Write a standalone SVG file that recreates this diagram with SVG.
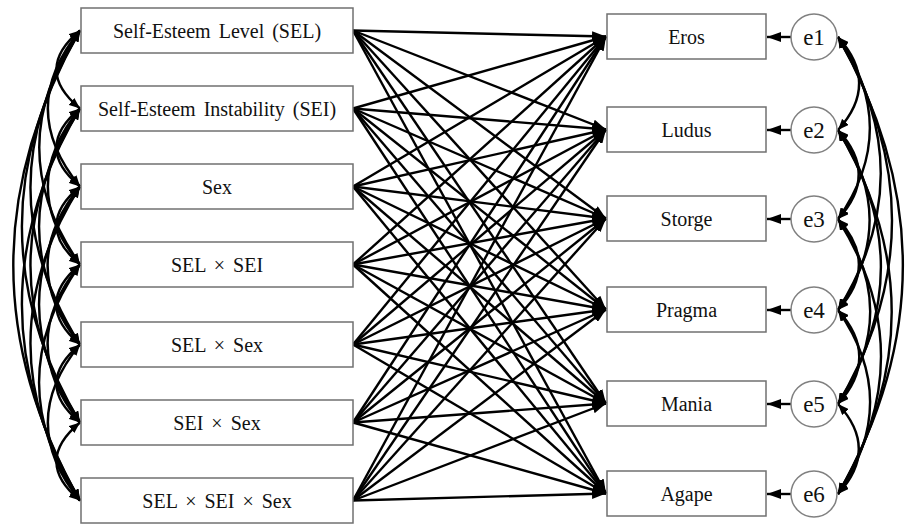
<svg xmlns="http://www.w3.org/2000/svg" width="912" height="525" viewBox="0 0 912 525">
<defs>
<marker id="ah" viewBox="0 0 14 10" refX="14" refY="5" markerWidth="14" markerHeight="10" markerUnits="userSpaceOnUse" orient="auto-start-reverse">
<path d="M0,0 L14,5 L0,10 z" fill="#000"/>
</marker>
<marker id="ahs" viewBox="0 0 11 9" refX="11" refY="4.5" markerWidth="11" markerHeight="9" markerUnits="userSpaceOnUse" orient="auto-start-reverse">
<path d="M0,0 L11,4.5 L0,9 z" fill="#000"/>
</marker>
</defs>
<style>
.box{fill:#fff;stroke:#707070;stroke-width:1.5}
.circ{fill:#fff;stroke:#808080;stroke-width:1.5}
.lbl{font-family:"Liberation Serif","Times New Roman",serif;font-size:20px;fill:#111;text-anchor:middle;word-spacing:3px}
.elbl{font-family:"Liberation Serif","Times New Roman",serif;font-size:23px;fill:#111;text-anchor:middle}
.path{stroke:#000;stroke-width:2.4;fill:none;marker-end:url(#ah)}
.cov{stroke:#000;stroke-width:2.4;fill:none;marker-start:url(#ahs);marker-end:url(#ahs)}
</style>
<rect width="912" height="525" fill="#fff"/>
<g id="connectors">
<g id="paths">
<line class="path" x1="353" y1="30.5" x2="606" y2="36.5"/><line class="path" x1="353" y1="30.5" x2="606" y2="129.5"/><line class="path" x1="353" y1="30.5" x2="606" y2="218.5"/><line class="path" x1="353" y1="30.5" x2="606" y2="309.5"/><line class="path" x1="353" y1="30.5" x2="606" y2="403.5"/><line class="path" x1="353" y1="30.5" x2="606" y2="493.5"/>
<line class="path" x1="353" y1="108.5" x2="606" y2="36.5"/><line class="path" x1="353" y1="108.5" x2="606" y2="129.5"/><line class="path" x1="353" y1="108.5" x2="606" y2="218.5"/><line class="path" x1="353" y1="108.5" x2="606" y2="309.5"/><line class="path" x1="353" y1="108.5" x2="606" y2="403.5"/><line class="path" x1="353" y1="108.5" x2="606" y2="493.5"/>
<line class="path" x1="353" y1="186.5" x2="606" y2="36.5"/><line class="path" x1="353" y1="186.5" x2="606" y2="129.5"/><line class="path" x1="353" y1="186.5" x2="606" y2="218.5"/><line class="path" x1="353" y1="186.5" x2="606" y2="309.5"/><line class="path" x1="353" y1="186.5" x2="606" y2="403.5"/><line class="path" x1="353" y1="186.5" x2="606" y2="493.5"/>
<line class="path" x1="353" y1="264.5" x2="606" y2="36.5"/><line class="path" x1="353" y1="264.5" x2="606" y2="129.5"/><line class="path" x1="353" y1="264.5" x2="606" y2="218.5"/><line class="path" x1="353" y1="264.5" x2="606" y2="309.5"/><line class="path" x1="353" y1="264.5" x2="606" y2="403.5"/><line class="path" x1="353" y1="264.5" x2="606" y2="493.5"/>
<line class="path" x1="353" y1="344.5" x2="606" y2="36.5"/><line class="path" x1="353" y1="344.5" x2="606" y2="129.5"/><line class="path" x1="353" y1="344.5" x2="606" y2="218.5"/><line class="path" x1="353" y1="344.5" x2="606" y2="309.5"/><line class="path" x1="353" y1="344.5" x2="606" y2="403.5"/><line class="path" x1="353" y1="344.5" x2="606" y2="493.5"/>
<line class="path" x1="353" y1="422.5" x2="606" y2="36.5"/><line class="path" x1="353" y1="422.5" x2="606" y2="129.5"/><line class="path" x1="353" y1="422.5" x2="606" y2="218.5"/><line class="path" x1="353" y1="422.5" x2="606" y2="309.5"/><line class="path" x1="353" y1="422.5" x2="606" y2="403.5"/><line class="path" x1="353" y1="422.5" x2="606" y2="493.5"/>
<line class="path" x1="353" y1="500.5" x2="606" y2="36.5"/><line class="path" x1="353" y1="500.5" x2="606" y2="129.5"/><line class="path" x1="353" y1="500.5" x2="606" y2="218.5"/><line class="path" x1="353" y1="500.5" x2="606" y2="309.5"/><line class="path" x1="353" y1="500.5" x2="606" y2="403.5"/><line class="path" x1="353" y1="500.5" x2="606" y2="493.5"/>
</g>
<g id="errors">
<line class="path" x1="791" y1="37" x2="767" y2="37"/>
<line class="path" x1="791" y1="130" x2="767" y2="130"/>
<line class="path" x1="791" y1="219" x2="767" y2="219"/>
<line class="path" x1="791" y1="310" x2="767" y2="310"/>
<line class="path" x1="791" y1="404" x2="767" y2="404"/>
<line class="path" x1="791" y1="494" x2="767" y2="494"/>
</g>
<g id="left-covariances">
<path class="cov" d="M80,30.5 Q32.8,69.5 80,108.5"/>
<path class="cov" d="M80,30.5 Q15.7,108.5 80,186.5"/>
<path class="cov" d="M80,30.5 Q-1.5,147.5 80,264.5"/>
<path class="cov" d="M80,30.5 Q-19.1,187.5 80,344.5"/>
<path class="cov" d="M80,30.5 Q-36.2,226.5 80,422.5"/>
<path class="cov" d="M80,30.5 Q-53.4,265.5 80,500.5"/>
<path class="cov" d="M80,108.5 Q32.8,147.5 80,186.5"/>
<path class="cov" d="M80,108.5 Q15.7,186.5 80,264.5"/>
<path class="cov" d="M80,108.5 Q-1.9,226.5 80,344.5"/>
<path class="cov" d="M80,108.5 Q-19.1,265.5 80,422.5"/>
<path class="cov" d="M80,108.5 Q-36.2,304.5 80,500.5"/>
<path class="cov" d="M80,186.5 Q32.8,225.5 80,264.5"/>
<path class="cov" d="M80,186.5 Q15.2,265.5 80,344.5"/>
<path class="cov" d="M80,186.5 Q-1.9,304.5 80,422.5"/>
<path class="cov" d="M80,186.5 Q-19.1,343.5 80,500.5"/>
<path class="cov" d="M80,264.5 Q32.4,304.5 80,344.5"/>
<path class="cov" d="M80,264.5 Q15.2,343.5 80,422.5"/>
<path class="cov" d="M80,264.5 Q-1.9,382.5 80,500.5"/>
<path class="cov" d="M80,344.5 Q32.8,383.5 80,422.5"/>
<path class="cov" d="M80,344.5 Q15.7,422.5 80,500.5"/>
<path class="cov" d="M80,422.5 Q32.8,461.5 80,500.5"/>
</g>
<g id="right-covariances">
<path class="cov" d="M838,37 Q880.3,83.5 838,130"/>
<path class="cov" d="M838,37 Q901.7,128 838,219"/>
<path class="cov" d="M838,37 Q923.5,173.5 838,310"/>
<path class="cov" d="M838,37 Q946,220.5 838,404"/>
<path class="cov" d="M838,37 Q967.7,265.5 838,494"/>
<path class="cov" d="M838,130 Q879.4,174.5 838,219"/>
<path class="cov" d="M838,130 Q901.2,220 838,310"/>
<path class="cov" d="M838,130 Q923.8,267 838,404"/>
<path class="cov" d="M838,130 Q945.4,312 838,494"/>
<path class="cov" d="M838,219 Q879.8,264.5 838,310"/>
<path class="cov" d="M838,219 Q902.4,311.5 838,404"/>
<path class="cov" d="M838,219 Q924,356.5 838,494"/>
<path class="cov" d="M838,310 Q880.6,357 838,404"/>
<path class="cov" d="M838,310 Q902.2,402 838,494"/>
<path class="cov" d="M838,404 Q879.6,449 838,494"/>
</g>
</g>
<g id="SEL"><rect class="box" x="81" y="8" width="272" height="45"/><text class="lbl" x="217" y="37.5">Self-Esteem Level (SEL)</text></g>
<g id="SEI"><rect class="box" x="81" y="86" width="272" height="45"/><text class="lbl" x="217" y="115.5">Self-Esteem Instability (SEI)</text></g>
<g id="Sex"><rect class="box" x="81" y="164" width="272" height="45"/><text class="lbl" x="217" y="193.5">Sex</text></g>
<g id="SELxSEI"><rect class="box" x="81" y="242" width="272" height="45"/><text class="lbl" x="217" y="271.5">SEL × SEI</text></g>
<g id="SELxSex"><rect class="box" x="81" y="322" width="272" height="45"/><text class="lbl" x="217" y="351.5">SEL × Sex</text></g>
<g id="SEIxSex"><rect class="box" x="81" y="400" width="272" height="45"/><text class="lbl" x="217" y="429.5">SEI × Sex</text></g>
<g id="SELxSEIxSex"><rect class="box" x="81" y="478" width="272" height="45"/><text class="lbl" x="217" y="507.5">SEL × SEI × Sex</text></g>
<g id="Eros"><rect class="box" x="607" y="14" width="159" height="45"/><text class="lbl" x="686.5" y="43.5">Eros</text></g>
<g id="Ludus"><rect class="box" x="607" y="107" width="159" height="45"/><text class="lbl" x="686.5" y="136.5">Ludus</text></g>
<g id="Storge"><rect class="box" x="607" y="196" width="159" height="45"/><text class="lbl" x="686.5" y="225.5">Storge</text></g>
<g id="Pragma"><rect class="box" x="607" y="287" width="159" height="45"/><text class="lbl" x="686.5" y="316.5">Pragma</text></g>
<g id="Mania"><rect class="box" x="607" y="381" width="159" height="45"/><text class="lbl" x="686.5" y="410.5">Mania</text></g>
<g id="Agape"><rect class="box" x="607" y="471" width="159" height="45"/><text class="lbl" x="686.5" y="500.5">Agape</text></g>
<g id="e1"><circle class="circ" cx="814" cy="37" r="23"/><text class="elbl" x="814" y="45">e1</text></g>
<g id="e2"><circle class="circ" cx="814" cy="130" r="23"/><text class="elbl" x="814" y="138">e2</text></g>
<g id="e3"><circle class="circ" cx="814" cy="219" r="23"/><text class="elbl" x="814" y="227">e3</text></g>
<g id="e4"><circle class="circ" cx="814" cy="310" r="23"/><text class="elbl" x="814" y="318">e4</text></g>
<g id="e5"><circle class="circ" cx="814" cy="404" r="23"/><text class="elbl" x="814" y="412">e5</text></g>
<g id="e6"><circle class="circ" cx="814" cy="494" r="23"/><text class="elbl" x="814" y="502">e6</text></g>
</svg>
